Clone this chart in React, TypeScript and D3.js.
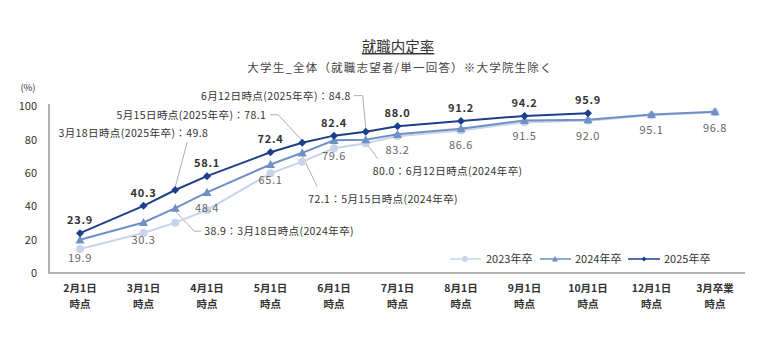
import React from "react";
import * as d3 from "d3";

const categories = ["2月1日", "3月1日", "4月1日", "5月1日", "6月1日", "7月1日", "8月1日", "9月1日", "10月1日", "12月1日", "3月卒業"];
const pointPos = [0, 1, 1.5, 2, 3, 3.5, 4, 4.5, 5, 6, 7, 8, 9, 10];
const s2023 = [14.4, 24.0, 30.2, 37.8, 59.8, 66.8, 74.8, 77.8, 82.0, 85.5, 90.5, 91.3, 94.6, 96.5];
const s2024 = [19.9, 30.3, 38.9, 48.4, 65.1, 72.1, 79.6, 80.0, 83.2, 86.6, 91.5, 92.0, 95.1, 96.8];
const s2025: (number | null)[] = [23.9, 40.3, 49.8, 58.1, 72.4, 78.1, 82.4, 84.8, 88.0, 91.2, 94.2, 95.9, null, null];
const yTicks = [0, 20, 40, 60, 80, 100];
const seriesNames = ["2023年卒", "2024年卒", "2025年卒"];

const C23 = "#c7d4ea";
const C24 = "#6f8fc6";
const C25 = "#1c3f8c";
const FONT = "'Noto Sans CJK JP', 'Noto Sans', sans-serif";

const x = d3.scaleLinear().domain([0, 10]).range([80, 715]);
const y = d3.scaleLinear().domain([0, 100]).range([273, 106.3]);

function pts(vals: (number | null)[]) {
  return vals
    .map((v, i) => (v == null ? null : ([x(pointPos[i]), y(v)] as [number, number])))
    .filter((p): p is [number, number] => p != null);
}

const line = d3.line<[number, number]>();

function Diamond({ cx, cy, r = 4, color }: any) {
  return <path d={`M${cx},${cy - r}L${cx + r},${cy}L${cx},${cy + r}L${cx - r},${cy}Z`} fill={color} />;
}
function Tri({ cx, cy, r = 4.5, color }: any) {
  return <path d={`M${cx},${cy - r}L${cx + r},${cy + r * 0.8}L${cx - r},${cy + r * 0.8}Z`} fill={color} />;
}

export default function App() {
  const p23 = pts(s2023);
  const p24 = pts(s2024);
  const p25 = pts(s2025);
  const idx = (pos: number) => pointPos.indexOf(pos);

  const labelIdx25 = [0, 1, 3, 4, 6, 8, 9, 10, 11];
  const labelIdx24 = [0, 1, 3, 4, 6, 8, 9, 10, 11, 12, 13];

  const i318 = idx(1.5), i515 = idx(3.5), i612 = idx(4.5);
  const P = (s: (number | null)[], i: number) => [x(pointPos[i]), y(s[i] as number)];
  const a = P(s2025, i318), b = P(s2025, i515), c = P(s2025, i612);
  const d = P(s2024, i318), e = P(s2024, i515), f = P(s2024, i612);

  const cs = { fontFamily: FONT, fontSize: 10.5, fill: "#333", letterSpacing: 0.4 } as any;

  return (
    <svg width={780} height={356} style={{ position: "absolute", left: 0, top: 0, background: "#fff" }}>
      <text x={398} y={52} textAnchor="middle" fontFamily={FONT} fontSize={14.5} fill="#333" textDecoration="underline">就職内定率</text>
      <text x={400} y={72} textAnchor="middle" fontFamily={FONT} fontSize={11.5} fill="#444" letterSpacing={1.2}>大学生_全体（就職志望者/単一回答）※大学院生除く</text>
      <text x={28} y={91} textAnchor="middle" fontFamily={FONT} fontSize={9.5} fill="#333">(%)</text>

      {yTicks.map((t) => (
        <text key={t} x={37} y={y(t) + 4} textAnchor="end" fontFamily={FONT} fontSize={11} fill="#333">{t}</text>
      ))}
      <line x1={49} y1={104} x2={49} y2={273} stroke="#999" strokeWidth={1.5} />
      <line x1={48.3} y1={273} x2={745} y2={273} stroke="#999" strokeWidth={1.5} />

      {categories.map((cat, i) => (
        <g key={cat} fontFamily={FONT} fontSize={10.5} fill="#333" fontWeight={700} textAnchor="middle">
          <text x={x(i)} y={292}>{cat}</text>
          <text x={x(i)} y={308}>時点</text>
        </g>
      ))}

      {/* leader lines */}
      <g stroke="#999" strokeWidth={0.8} fill="none">
        <polyline points={`${a[0] + 12},${a[1] - 48} ${a[0]},${a[1] - 3}`} />
        <polyline points={`${b[0] - 32},${b[1] - 28} ${b[0] - 24},${b[1] - 28} ${b[0]},${b[1] - 2}`} />
        <polyline points={`${c[0] - 12},${c[1] - 36} ${c[0] - 3},${c[1] - 36} ${c[0]},${c[1] - 3}`} />
        <polyline points={`${d[0]},${d[1] + 3} ${d[0] + 19},${d[1] + 23} ${d[0] + 26},${d[1] + 23}`} />
        <polyline points={`${e[0]},${e[1] + 3} ${e[0] + 15},${e[1] + 34}`} />
        <polyline points={`${f[0]},${f[1] + 3} ${f[0] + 12},${f[1] + 19}`} />
      </g>

      {/* lines */}
      <path d={line(p23) || ""} fill="none" stroke={C23} strokeWidth={2} />
      {p23.map((p, i) => <circle key={i} cx={p[0]} cy={p[1]} r={4} fill={C23} />)}
      <path d={line(p24) || ""} fill="none" stroke={C24} strokeWidth={2} />
      {p24.map((p, i) => <Tri key={i} cx={p[0]} cy={p[1]} color={C24} />)}
      <path d={line(p25) || ""} fill="none" stroke={C25} strokeWidth={2} />
      {p25.map((p, i) => <Diamond key={i} cx={p[0]} cy={p[1]} color={C25} />)}

      {/* data labels */}
      {labelIdx25.map((i) => (
        <text key={"l25" + i} x={x(pointPos[i])} y={y(s2025[i] as number) - 9} textAnchor="middle" fontFamily={FONT} fontSize={11} fontWeight={700} fill="#333" letterSpacing={0.8}>{(s2025[i] as number).toFixed(1)}</text>
      ))}
      {labelIdx24.map((i) => (
        <text key={"l24" + i} x={x(pointPos[i])} y={y(s2024[i]) + (i <= 1 ? 22 : 20)} textAnchor="middle" fontFamily={FONT} fontSize={11} fill="#666" letterSpacing={0.6}>{s2024[i].toFixed(1)}</text>
      ))}

      {/* callouts */}
      <text x={a[0] + 33} y={a[1] - 53} textAnchor="end" {...cs}>3月18日時点(2025年卒)：{(s2025[i318] as number).toFixed(1)}</text>
      <text x={b[0] - 36} y={b[1] - 24} textAnchor="end" {...cs}>5月15日時点(2025年卒)：{(s2025[i515] as number).toFixed(1)}</text>
      <text x={c[0] - 15} y={c[1] - 32} textAnchor="end" {...cs}>6月12日時点(2025年卒)：{(s2025[i612] as number).toFixed(1)}</text>
      <text x={d[0] + 29} y={d[1] + 27} {...cs}>{s2024[i318].toFixed(1)}：3月18日時点(2024年卒)</text>
      <text x={e[0] + 6} y={e[1] + 50} {...cs}>{s2024[i515].toFixed(1)}：5月15日時点(2024年卒)</text>
      <text x={f[0] + 7} y={f[1] + 35} {...cs}>{s2024[i612].toFixed(1)}：6月12日時点(2024年卒)</text>

      {/* legend */}
      <g fontFamily={FONT} fontSize={11} fill="#333">
        <line x1={450} y1={259} x2={481} y2={259} stroke={C23} strokeWidth={1.5} />
        <circle cx={465} cy={259} r={3} fill={C23} />
        <text x={486} y={263}>{seriesNames[0]}</text>
        <line x1={540} y1={259} x2={571} y2={259} stroke={C24} strokeWidth={1.5} />
        <Tri cx={555} cy={259} r={3} color={C24} />
        <text x={575} y={263}>{seriesNames[1]}</text>
        <line x1={628} y1={259} x2={660} y2={259} stroke={C25} strokeWidth={1.5} />
        <Diamond cx={644} cy={259} r={2.5} color={C25} />
        <text x={664} y={263}>{seriesNames[2]}</text>
      </g>
    </svg>
  );
}
